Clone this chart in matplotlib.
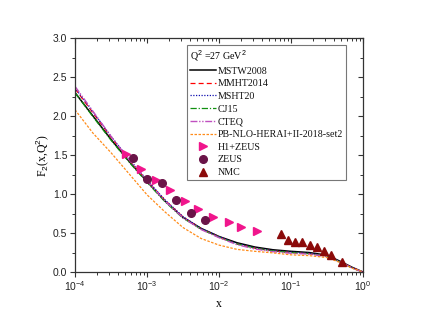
import matplotlib

matplotlib.use("Agg")

import matplotlib.pyplot as plt
import numpy as np
from matplotlib.ticker import FixedLocator, LogLocator, NullFormatter

# model curves (log10 x grid)
LOG_X = [-4, -3.75, -3.5, -3.25, -3, -2.75, -2.5, -2.25, -2, -1.75, -1.5, -1.25, -1, -0.75, -0.5, -0.3, -0.15, 0]
MSTW2008 = [2.30, 2.00, 1.70, 1.42, 1.16, 0.91, 0.70, 0.56, 0.455, 0.375, 0.32, 0.285, 0.265, 0.25, 0.215, 0.13, 0.06, 0.0]
MMHT2014 = [2.35, 2.04, 1.73, 1.44, 1.17, 0.92, 0.705, 0.555, 0.45, 0.36, 0.305, 0.27, 0.25, 0.235, 0.205, 0.125, 0.055, 0.0]
MSHT20 = [2.36, 2.05, 1.74, 1.45, 1.18, 0.925, 0.71, 0.56, 0.455, 0.365, 0.31, 0.275, 0.255, 0.24, 0.21, 0.125, 0.055, 0.0]
CJ15 = [2.30, 1.99, 1.69, 1.41, 1.15, 0.90, 0.69, 0.55, 0.445, 0.36, 0.305, 0.27, 0.25, 0.235, 0.205, 0.12, 0.05, 0.0]
CTEQ = [2.38, 2.06, 1.74, 1.44, 1.17, 0.91, 0.695, 0.545, 0.44, 0.35, 0.295, 0.26, 0.24, 0.23, 0.2, 0.12, 0.05, 0.0]
PB_NLO = [2.08, 1.78, 1.53, 1.26, 0.99, 0.77, 0.57, 0.43, 0.345, 0.29, 0.265, 0.245, 0.22, 0.21, 0.185, 0.115, 0.05, 0.0]

# measurements
H1ZEUS_LOGX = [-3.292, -3.090, -2.871, -2.681, -2.468, -2.288, -2.079, -1.861, -1.694, -1.468]
H1ZEUS_F2 = [1.513, 1.318, 1.18, 1.051, 0.914, 0.805, 0.705, 0.635, 0.581, 0.526]
ZEUS_LOGX = [-3.199, -2.996, -2.787, -2.593, -2.389, -2.190]
ZEUS_F2 = [1.458, 1.188, 1.141, 0.923, 0.760, 0.669]
NMC_LOGX = [-1.143, -1.037, -0.944, -0.843, -0.736, -0.635, -0.546, -0.444, -0.292]
NMC_F2 = [0.487, 0.410, 0.381, 0.381, 0.346, 0.325, 0.267, 0.218, 0.124]

SERIF = "Liberation Serif"
SANS = "Liberation Sans"


def xs(log_values):
    return 10.0 ** np.asarray(log_values)


def style_ticks(axis, direction):
    axis.tick_params(which="both", direction=direction, colors="#333333")
    axis.tick_params(which="major", length=3.5, width=0.8)
    axis.tick_params(which="minor", length=2, width=0.7)


def main() -> None:
    plt.rcParams["font.family"] = SANS
    plt.rcParams["mathtext.fontset"] = "custom"
    plt.rcParams["mathtext.rm"] = SANS
    plt.rcParams["mathtext.it"] = SANS

    fig = plt.figure(figsize=(4.23, 3.27), dpi=100)
    ax = fig.add_axes([75 / 423, 55 / 327, 288 / 423, 234 / 327])

    x = xs(LOG_X)
    ax.plot(x, MSTW2008, color="black", lw=1.1, ls="-", label="MSTW2008")
    ax.plot(x, MMHT2014, color="#ff0000", lw=0.9, ls=(0, (4, 2.5)), label="MMHT2014")
    ax.plot(x, MSHT20, color="#1010b0", lw=0.9, ls=(0, (1, 1.2)), label="MSHT20")
    ax.plot(x, CJ15, color="#109010", lw=0.9, ls=(0, (5, 1.5, 1, 1.5)), label="CJ15")
    ax.plot(x, CTEQ, color="#c050c0", lw=1.0, ls=(0, (5, 1.2, 1, 1.2, 1, 1.2)), label="CTEQ")
    ax.plot(x, PB_NLO, color="#ff8c1a", lw=0.9, ls=(0, (2, 1.2)), label="PB-NLO-HERAI+II-2018-set2")

    ax.plot(xs(H1ZEUS_LOGX), H1ZEUS_F2, ls="none", marker=">", ms=6, color="#f0158c", label="H1+ZEUS")
    ax.plot(xs(ZEUS_LOGX), ZEUS_F2, ls="none", marker="o", ms=5.5, color="#6a1448", label="ZEUS")
    ax.plot(xs(NMC_LOGX), NMC_F2, ls="none", marker="^", ms=6, color="#8b0a0a", label="NMC")

    ax.set_xscale("log")
    ax.set_xlim(1e-4, 1.0)
    ax.set_ylim(0.0, 3.0)
    ax.set_yticks(np.arange(0, 3.01, 0.5))
    ax.yaxis.set_minor_locator(FixedLocator(np.arange(0.25, 3.0, 0.5)))
    ax.yaxis.set_major_formatter(plt.FuncFormatter(lambda v, _: f"{v:.1f}"))
    ax.xaxis.set_major_locator(LogLocator(base=10, numticks=10))
    ax.xaxis.set_minor_locator(LogLocator(base=10, subs=np.arange(2, 10), numticks=20))
    ax.xaxis.set_minor_formatter(NullFormatter())

    for spine in ax.spines.values():
        spine.set_color("#333333")
        spine.set_linewidth(0.9)
    style_ticks(ax, "out")
    ax.tick_params(labelcolor="#222222", labelsize=7.5, pad=2)

    # mirrored ticks pointing inward on top and right
    ax_top = ax.twiny()
    ax_top.set_xscale("log")
    ax_top.set_xlim(ax.get_xlim())
    ax_top.xaxis.set_major_locator(LogLocator(base=10, numticks=10))
    ax_top.xaxis.set_minor_locator(LogLocator(base=10, subs=np.arange(2, 10), numticks=20))
    style_ticks(ax_top, "in")
    ax_top.tick_params(labeltop=False)
    ax_right = ax.twinx()
    ax_right.set_ylim(ax.get_ylim())
    ax_right.set_yticks(np.arange(0, 3.01, 0.5))
    ax_right.yaxis.set_minor_locator(FixedLocator(np.arange(0.25, 3.0, 0.5)))
    style_ticks(ax_right, "in")
    ax_right.tick_params(labelright=False)
    for extra in (ax_top, ax_right):
        for spine in extra.spines.values():
            spine.set_visible(False)

    ax.set_xlabel("x", family=SERIF, fontsize=8.5, labelpad=3)
    ax.set_ylabel(r"F$_2$(x,Q$^2$)", family=SERIF, fontsize=8.5, labelpad=1)

    handles, labels = ax.get_legend_handles_labels()
    legend = ax_right.legend(
        handles,
        labels,
        title=r"Q$^2$ =27 GeV$^2$",
        loc="upper left",
        bbox_to_anchor=((187 - 75) / 288, (272 - 45) / 234),
        frameon=True,
        fancybox=False,
        edgecolor="#777777",
        framealpha=1.0,
        handlelength=2.6,
        handletextpad=0.2,
        borderpad=0.3,
        labelspacing=0.37,
        borderaxespad=0.0,
        alignment="left",
        prop={"family": SERIF, "size": 7.2},
        title_fontproperties={"family": SERIF, "size": 7.2},
    )
    legend.get_frame().set_linewidth(0.8)
    for text in legend.get_texts():
        text.set_color("#111111")

    fig.savefig("out.png", dpi=100)
    plt.close(fig)


if __name__ == "__main__":
    main()
